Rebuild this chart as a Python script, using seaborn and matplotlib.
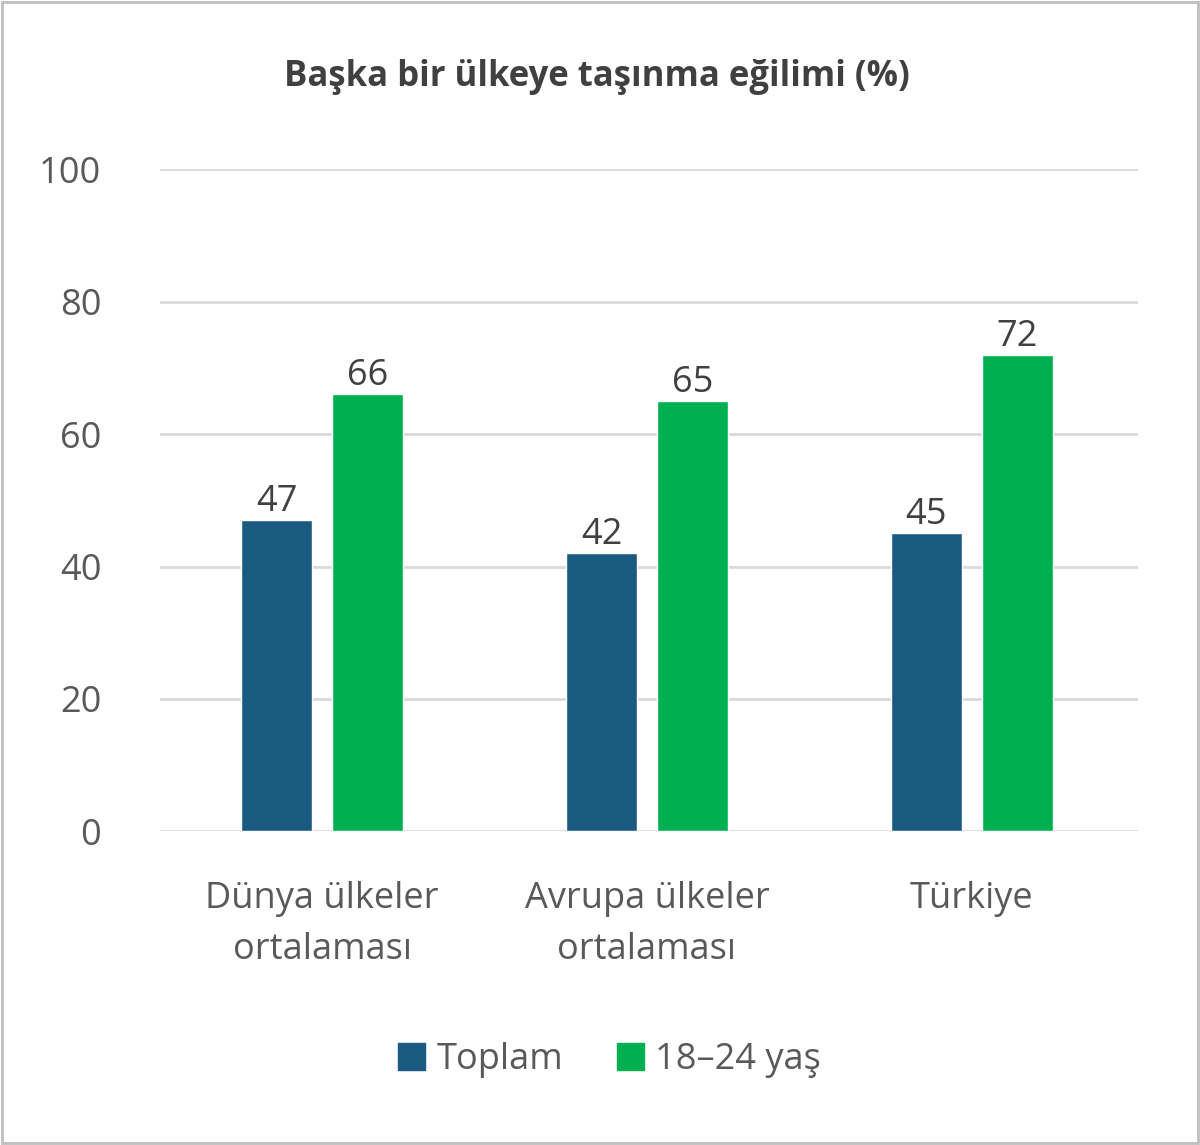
import matplotlib
matplotlib.use("Agg")
import matplotlib.pyplot as plt
import seaborn as sns
import pandas as pd
from matplotlib.patches import Rectangle

categories = ["Dünya ülkeler\nortalaması", "Avrupa ülkeler\nortalaması", "Türkiye"]
toplam = [47, 42, 45]
genc = [66, 65, 72]
series = ["Toplam", "18–24 yaş"]
colors = ["#1b5a80", "#00b050"]

df = pd.DataFrame({
    "kategori": categories * 2,
    "deger": toplam + genc,
    "grup": [series[0]] * 3 + [series[1]] * 3,
})

sns.set_theme(style="white")
plt.rcParams["font.family"] = ["Open Sans", "DejaVu Sans"]

fig = plt.figure(figsize=(12, 11.45), dpi=100)
ax = fig.add_axes([0.133, 0.274, 0.815, 0.578])
sns.barplot(data=df, x="kategori", y="deger", hue="grup", palette=colors,
            width=0.56, gap=0.214, saturation=1, ax=ax, legend=False)

for c in ax.containers:
    ax.bar_label(c, fontsize=26, color="#404040", padding=0)

ax.set_ylim(0, 100)
ax.set_xlim(-0.5, 2.51)
ax.set_yticks(range(0, 101, 20))
ax.yaxis.grid(True, color="#d9d9d9", linewidth=2)
ax.set_axisbelow(True)
for s in ax.spines.values():
    s.set_visible(False)
ax.tick_params(axis="y", labelsize=26, labelcolor="#595959", length=0, pad=42)
ax.tick_params(axis="x", labelsize=26, labelcolor="#595959", length=0, pad=36)
for t in ax.get_xticklabels():
    t.set_linespacing(1.55)
ax.set_xlabel("")
ax.set_ylabel("")

fig.text(0.497, 0.933, "Başka bir ülkeye taşınma eğilimi (%)", ha="center",
         va="center", fontsize=25, fontweight="bold", color="#404040")

handles = [Rectangle((0, 0), 1, 1, color=c) for c in colors]
fig.legend(handles, series, loc="center", bbox_to_anchor=(0.508, 0.074), ncol=2,
           frameon=False, fontsize=26, labelcolor="#595959", handlelength=0.75,
           handleheight=0.75, columnspacing=1.5, handletextpad=0.3)

fig.patches.append(Rectangle((0.002, 0.002), 0.996, 0.996, transform=fig.transFigure,
                             fill=False, edgecolor="#bfbfbf", linewidth=2))
fig.savefig("out.png", dpi=100)
